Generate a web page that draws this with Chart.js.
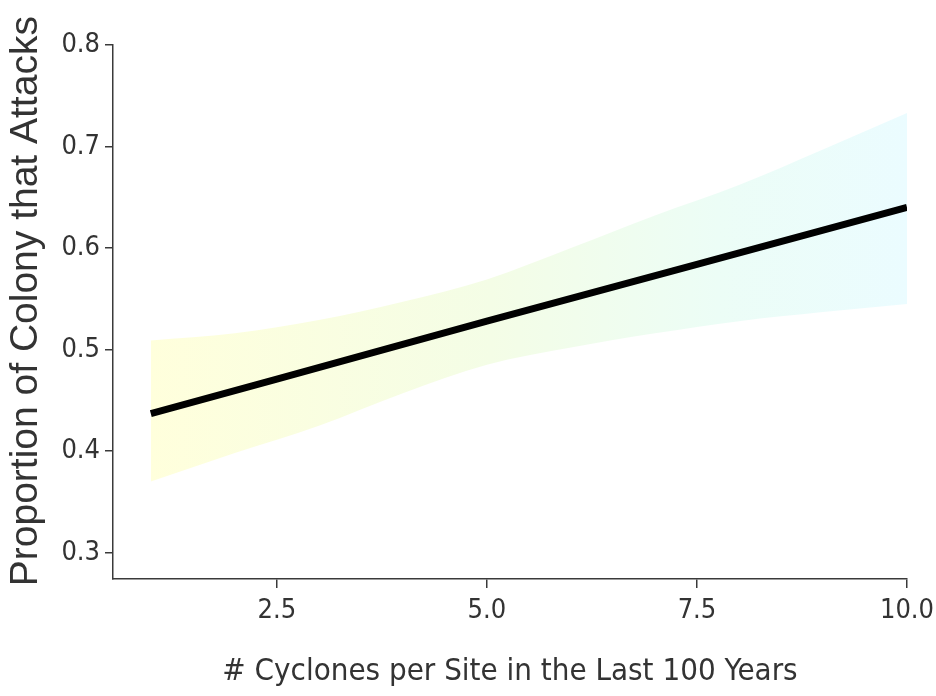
<!DOCTYPE html>
<html>
<head>
<meta charset="utf-8">
<script src="https://cdn.jsdelivr.net/npm/chart.js@4/dist/chart.umd.min.js"></script>
<style>
  html, body { margin: 0; padding: 0; background: #ffffff; }
  #wrap { width: 936px; height: 696px; }
</style>
</head>
<body>
<div id="wrap"><canvas id="c" width="936" height="696"></canvas></div>
<script>
// ---- data ----
const fitX = [1, 2.5, 5, 7.5, 10];
const fitY = [0.437, 0.471, 0.528, 0.584, 0.640];

const bandX = [1, 2, 3, 4, 5, 6, 7, 8, 9, 10];
const bandUpper = [0.509, 0.516, 0.529, 0.547, 0.569, 0.600, 0.632, 0.662, 0.697, 0.733];
const bandLower = [0.370, 0.398, 0.425, 0.457, 0.485, 0.502, 0.516, 0.528, 0.537, 0.545];

const xTicks = [2.5, 5.0, 7.5, 10.0];
const yTicks = [0.3, 0.4, 0.5, 0.6, 0.7, 0.8];

const xTitle = '# Cyclones per Site in the Last 100 Years';
const yTitle = '  Proportion of Colony that Attacks';

const toPts = (xs, ys) => xs.map((x, i) => ({ x: x, y: ys[i] }));

function bandGradient(context) {
  const chart = context.chart;
  const area = chart.chartArea;
  if (!area) return 'rgba(250,252,225,1)';
  const xs = chart.scales.x;
  const x0 = xs.getPixelForValue(bandX[0]);
  const x1 = xs.getPixelForValue(bandX[bandX.length - 1]);
  const g = chart.ctx.createLinearGradient(x0, 0, x1, 0);
  g.addColorStop(0, 'rgb(255,255,220)');
  g.addColorStop(0.45, 'rgb(244,253,230)');
  g.addColorStop(0.75, 'rgb(236,253,246)');
  g.addColorStop(1, 'rgb(235,252,255)');
  return g;
}

const axisColor = '#3a3a3a';
const textColor = '#333333';
const NARROW = "'DejaVu Sans Condensed', 'Liberation Sans', Arial, sans-serif";
const REGULAR = "'Liberation Sans', Arial, Helvetica, sans-serif";

new Chart(document.getElementById('c'), {
  type: 'line',
  data: {
    datasets: [
      {
        label: 'upper',
        data: toPts(bandX, bandUpper),
        borderWidth: 0,
        pointRadius: 0,
        fill: '+1',
        backgroundColor: bandGradient,
        cubicInterpolationMode: 'monotone',
        order: 2
      },
      {
        label: 'lower',
        data: toPts(bandX, bandLower),
        borderWidth: 0,
        pointRadius: 0,
        fill: false,
        cubicInterpolationMode: 'monotone',
        order: 2
      },
      {
        label: 'fit',
        data: toPts(fitX, fitY),
        borderColor: '#000000',
        borderWidth: 7,
        borderCapStyle: 'butt',
        pointRadius: 0,
        fill: false,
        tension: 0,
        order: 1
      }
    ]
  },
  options: {
    responsive: false,
    animation: false,
    events: [],
    layout: { padding: { top: 45, right: 29, left: 0, bottom: 0 } },
    plugins: {
      legend: { display: false },
      tooltip: { enabled: false },
      filler: { propagate: false }
    },
    scales: {
      x: {
        type: 'linear',
        min: 0.55,
        max: 10,
        afterBuildTicks: (s) => { s.ticks = xTicks.map(v => ({ value: v })); },
        afterFit: (s) => { s.height = 117; s.paddingRight = 0; s.paddingLeft = 0; },
        border: { display: true, color: axisColor, width: 1.5 },
        grid: { drawOnChartArea: false, drawTicks: true, tickLength: 9, tickColor: axisColor, lineWidth: 1.5 },
        ticks: {
          color: textColor,
          font: { family: NARROW, size: 27 },
          padding: 7,
          maxRotation: 0,
          callback: (v) => Number(v).toFixed(1)
        },
        title: {
          display: true,
          text: xTitle,
          color: textColor,
          font: { family: NARROW, size: 31 },
          padding: { top: 0, bottom: 5 }
        }
      },
      y: {
        type: 'linear',
        min: 0.274,
        max: 0.8,
        afterBuildTicks: (s) => { s.ticks = yTicks.map(v => ({ value: v })); },
        afterFit: (s) => { s.width = 113; s.paddingTop = 0; s.paddingBottom = 0; },
        border: { display: true, color: axisColor, width: 1.5 },
        grid: { drawOnChartArea: false, drawTicks: true, tickLength: 8, tickColor: axisColor, lineWidth: 1.5 },
        ticks: {
          color: textColor,
          font: { family: NARROW, size: 27 },
          padding: 5,
          callback: (v) => Number(v).toFixed(1)
        },
        title: {
          display: true,
          text: yTitle,
          color: textColor,
          font: { family: REGULAR, size: 39 },
          padding: { top: 3, bottom: 0 }
        }
      }
    }
  }
});
</script>
</body>
</html>
